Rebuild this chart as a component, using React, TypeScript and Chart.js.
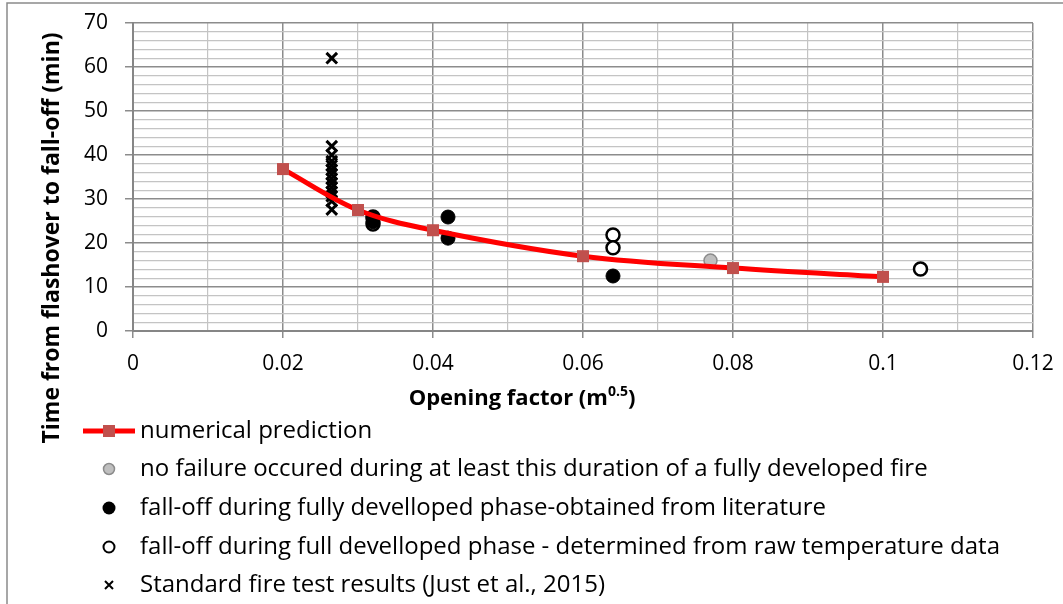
import React, { useEffect, useRef } from 'react';
import { Chart, registerables } from 'chart.js';

Chart.register(...registerables);

// ---- data ----
const predX = [0.02, 0.03, 0.04, 0.06, 0.08, 0.1];
const predY = [36.8, 27.5, 22.9, 17.0, 14.3, 12.3];

const noFailX = [0.077];
const noFailY = [16.0];

const litX = [0.032, 0.032, 0.042, 0.042, 0.064];
const litY = [25.6, 24.8, 25.9, 21.1, 12.5];

const rawX = [0.032, 0.032, 0.064, 0.064, 0.105];
const rawY = [25.9, 24.3, 21.8, 18.9, 14.1];

const stdX = [0.0265, 0.0265, 0.0265, 0.0265, 0.0265, 0.0265, 0.0265, 0.0265, 0.0265, 0.0265, 0.0265, 0.0265, 0.0265, 0.0265];
const stdY = [62, 42, 40, 38.6, 37.6, 36.6, 35.6, 34.6, 33.6, 32.6, 31.6, 30.6, 29.5, 27.6];

const xTickLabels = ['0', '0.02', '0.04', '0.06', '0.08', '0.1', '0.12'];
const yTickLabels = ['0', '10', '20', '30', '40', '50', '60', '70'];

const seriesNames = [
  'numerical prediction',
  'no failure occured during at least this duration of a fully developed fire',
  'fall-off during fully develloped phase-obtained from literature',
  'fall-off during full develloped phase - determined from raw temperature data',
  'Standard fire test results (Just et al., 2015)',
];

const yTitle = 'Time from flashover to fall-off (min)';
const xTitleMain = 'Opening factor (m';
const xTitleSup = '0.5';
const xTitleEnd = ')';

const FONT = '"Open Sans", "Noto Sans", sans-serif';

const toPts = (xs: number[], ys: number[]) => xs.map((x, i) => ({ x, y: ys[i] }));

const isMajorX = (v: number) => Math.abs(Math.round(v * 100) % 2) === 0;
const isMajorY = (v: number) => Math.round(v) % 10 === 0;

const decorPlugin = {
  id: 'decor',
  afterDraw(chart: any) {
    const ctx = chart.ctx as CanvasRenderingContext2D;
    ctx.save();
    // outer frame
    ctx.strokeStyle = '#8a8a8a';
    ctx.lineWidth = 1.5;
    ctx.beginPath();
    ctx.moveTo(7, 604);
    ctx.lineTo(7, 3);
    ctx.lineTo(1063, 3);
    ctx.stroke();

    // y title
    ctx.fillStyle = '#000';
    ctx.font = `bold 23px ${FONT}`;
    ctx.textAlign = 'center';
    ctx.textBaseline = 'middle';
    ctx.save();
    ctx.translate(52, 238);
    ctx.rotate(-Math.PI / 2);
    ctx.fillText(yTitle, 0, 0);
    ctx.restore();

    // x title with superscript
    const mainFont = `bold 22px ${FONT}`;
    const supFont = `bold 14px ${FONT}`;
    ctx.font = mainFont;
    const w1 = ctx.measureText(xTitleMain).width;
    const w3 = ctx.measureText(xTitleEnd).width;
    ctx.font = supFont;
    const w2 = ctx.measureText(xTitleSup).width;
    const total = w1 + w2 + w3;
    let x = 522 - total / 2;
    const y = 399;
    ctx.textAlign = 'left';
    ctx.font = mainFont;
    ctx.fillText(xTitleMain, x, y);
    x += w1;
    ctx.font = supFont;
    ctx.fillText(xTitleSup, x, y - 7);
    x += w2;
    ctx.font = mainFont;
    ctx.fillText(xTitleEnd, x, y);

    // legend
    const ys = [431, 469, 508, 547, 585];
    const mx = 109;
    const tx = 140;
    ctx.strokeStyle = '#ff0000';
    ctx.lineWidth = 5;
    ctx.beginPath();
    ctx.moveTo(83, ys[0]);
    ctx.lineTo(135, ys[0]);
    ctx.stroke();
    ctx.fillStyle = '#c0504d';
    ctx.fillRect(mx - 6, ys[0] - 6, 12, 12);
    ctx.beginPath();
    ctx.arc(mx, ys[1], 5.5, 0, Math.PI * 2);
    ctx.fillStyle = '#bfbfbf';
    ctx.fill();
    ctx.strokeStyle = '#8c8c8c';
    ctx.lineWidth = 1.5;
    ctx.stroke();
    ctx.beginPath();
    ctx.arc(mx, ys[2], 6.5, 0, Math.PI * 2);
    ctx.fillStyle = '#000';
    ctx.fill();
    ctx.beginPath();
    ctx.arc(mx, ys[3], 5.5, 0, Math.PI * 2);
    ctx.fillStyle = '#fff';
    ctx.fill();
    ctx.strokeStyle = '#000';
    ctx.lineWidth = 2;
    ctx.stroke();
    ctx.beginPath();
    ctx.moveTo(mx - 4, ys[4] - 4);
    ctx.lineTo(mx + 4, ys[4] + 4);
    ctx.moveTo(mx + 4, ys[4] - 4);
    ctx.lineTo(mx - 4, ys[4] + 4);
    ctx.strokeStyle = '#000';
    ctx.lineWidth = 2;
    ctx.stroke();

    ctx.fillStyle = '#000';
    ctx.font = `24px ${FONT}`;
    ctx.textAlign = 'left';
    ctx.textBaseline = 'middle';
    seriesNames.forEach((n, i) => ctx.fillText(n, tx, ys[i]));
    ctx.restore();
  },
};

export default function App() {
  const ref = useRef<HTMLCanvasElement | null>(null);

  useEffect(() => {
    if (!ref.current) return;
    const chart = new Chart(ref.current, {
      type: 'scatter',
      data: {
        datasets: [
          {
            label: seriesNames[0],
            data: toPts(predX, predY),
            showLine: true,
            borderColor: '#ff0000',
            borderWidth: 5,
            tension: 0.35,
            pointStyle: 'rect',
            pointRadius: 8.5,
            pointBackgroundColor: '#c0504d',
            pointBorderColor: '#c0504d',
            pointBorderWidth: 0,
          },
          {
            label: seriesNames[1],
            data: toPts(noFailX, noFailY),
            pointStyle: 'circle',
            pointRadius: 6.5,
            pointBackgroundColor: '#bfbfbf',
            pointBorderColor: '#8c8c8c',
            pointBorderWidth: 1.5,
          },
          {
            label: seriesNames[2],
            data: toPts(litX, litY),
            pointStyle: 'circle',
            pointRadius: 7,
            pointBackgroundColor: '#000',
            pointBorderColor: '#000',
            pointBorderWidth: 1,
          },
          {
            label: seriesNames[3],
            data: toPts(rawX, rawY),
            pointStyle: 'circle',
            pointRadius: 6.5,
            pointBackgroundColor: '#fff',
            pointBorderColor: '#000',
            pointBorderWidth: 2.5,
          },
          {
            label: seriesNames[4],
            data: toPts(stdX, stdY),
            pointStyle: 'crossRot',
            pointRadius: 7.5,
            pointBorderColor: '#000',
            pointBorderWidth: 3,
          },
        ],
      },
      options: {
        responsive: false,
        animation: false,
        layout: { padding: { left: 73, top: 23, right: 30, bottom: 233 } },
        plugins: {
          legend: { display: false },
          tooltip: { enabled: false },
          title: { display: false },
        },
        scales: {
          x: {
            type: 'linear',
            min: 0,
            max: 0.12,
            afterFit: (s: any) => {
              s.height = 40;
              s.paddingLeft = 0;
              s.paddingRight = 0;
            },
            ticks: {
              stepSize: 0.01,
              autoSkip: false,
              maxRotation: 0,
              padding: 13,
              color: '#000',
              font: { family: FONT, size: 21 },
              callback: (v: any, i: number) => (i % 2 === 0 ? xTickLabels[i / 2] : ''),
            },
            grid: {
              color: (c: any) => (isMajorX(c.tick?.value ?? 0) ? '#8c8c8c' : '#c4c4c4'),
              lineWidth: (c: any) => (isMajorX(c.tick?.value ?? 0) ? 1.5 : 1.2),
              tickColor: (c: any) => (isMajorX(c.tick?.value ?? 0) ? '#8c8c8c' : 'rgba(0,0,0,0)'),
              tickLength: 7,
            },
            border: { color: '#868686', width: 2 },
          },
          y: {
            type: 'linear',
            min: 0,
            max: 70,
            afterFit: (s: any) => {
              s.width = 60;
              s.paddingTop = 0;
              s.paddingBottom = 0;
            },
            ticks: {
              stepSize: 2,
              autoSkip: false,
              padding: 17,
              color: '#000',
              font: { family: FONT, size: 21 },
              callback: (v: any, i: number) => (i % 5 === 0 ? yTickLabels[i / 5] : ''),
            },
            grid: {
              color: (c: any) => (isMajorY(c.tick?.value ?? 0) ? '#8c8c8c' : '#c4c4c4'),
              lineWidth: (c: any) => (isMajorY(c.tick?.value ?? 0) ? 1.5 : 1.2),
              tickColor: (c: any) => (isMajorY(c.tick?.value ?? 0) ? '#8c8c8c' : 'rgba(0,0,0,0)'),
              tickLength: 8,
            },
            border: { color: '#868686', width: 2 },
          },
        },
      },
      plugins: [decorPlugin],
    });
    return () => chart.destroy();
  }, []);

  return (
    <div style={{ position: 'fixed', left: 0, top: 0, width: 1063, height: 604, background: '#fff' }}>
      <canvas ref={ref} width={1063} height={604} style={{ width: 1063, height: 604, display: 'block' }} />
    </div>
  );
}
